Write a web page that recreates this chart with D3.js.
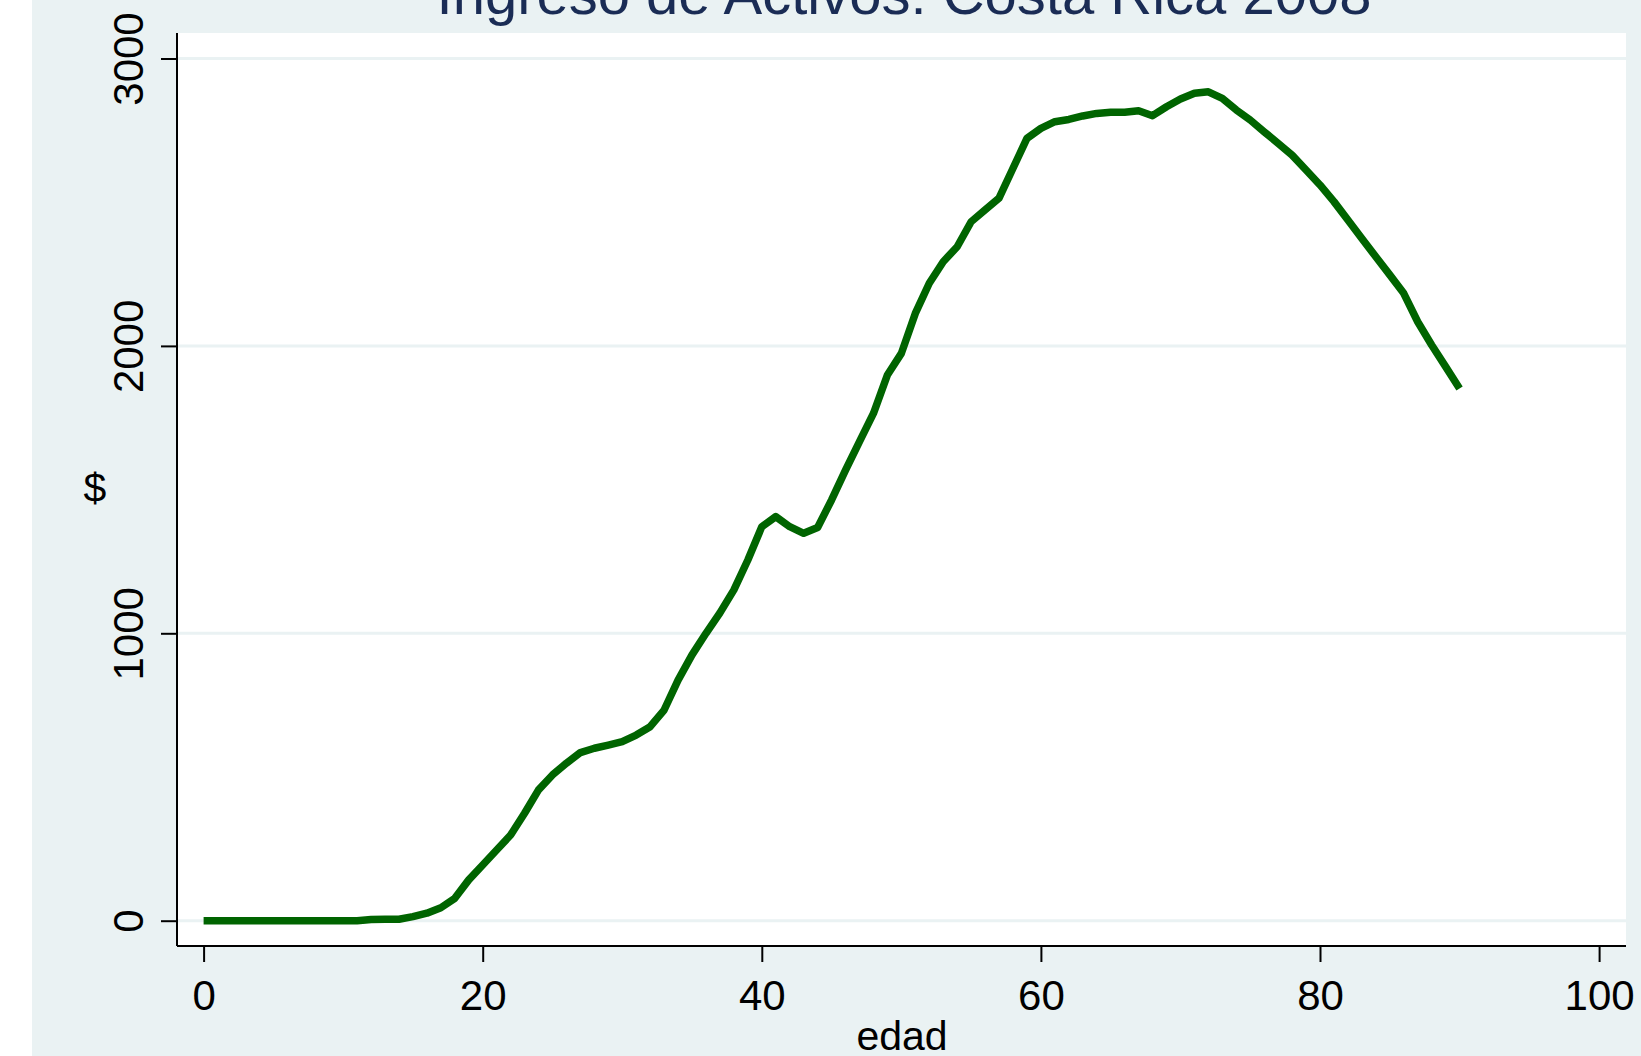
<!DOCTYPE html>
<html>
<head>
<meta charset="utf-8">
<script src="https://cdn.jsdelivr.net/npm/d3@7/dist/d3.min.js"></script>
<style>
  body { margin: 0; background: #fff; }
  svg text { font-family: "Liberation Sans", Arial, sans-serif; }
</style>
</head>
<body>
<div id="chart"></div>
<script>
// ingreso medio por edad (lectura del grafico original)
var edad = [0, 1, 2, 3, 4, 5, 6, 7, 8, 9, 10, 11, 12, 13, 14, 15, 16, 17, 18, 19,
  20, 21, 22, 23, 24, 25, 26, 27, 28, 29, 30, 31, 32, 33, 34, 35, 36, 37, 38, 39,
  40, 41, 42, 43, 44, 45, 46, 47, 48, 49, 50, 51, 52, 53, 54, 55, 56, 57, 58, 59,
  60, 61, 62, 63, 64, 65, 66, 67, 68, 69, 70, 71, 72, 73, 74, 75, 76, 77, 78, 79,
  80, 81, 82, 83, 84, 85, 86, 87, 88, 89, 90];
var ingreso = [0, 0, 0, 0, 0, 0, 0, 0, 0, 0, 0, 0, 4, 5, 5, 14, 26, 45, 78, 142,
  194, 246, 298, 374, 455, 507, 548, 585, 600, 611, 623, 646, 675, 733, 837, 925, 1000, 1071, 1151, 1255,
  1371, 1406, 1371, 1348, 1368, 1464, 1568, 1667, 1765, 1899, 1974, 2113, 2218, 2293, 2345, 2432, 2473, 2514, 2618, 2722,
  2757, 2780, 2788, 2800, 2809, 2813, 2813, 2818, 2801, 2832, 2859, 2879, 2884, 2861, 2821, 2786, 2745, 2705, 2664, 2612,
  2560, 2502, 2438, 2374, 2310, 2247, 2183, 2084, 2003, 1928, 1852];
var xTicks = [0, 20, 40, 60, 80, 100];
var yTicks = [0, 1000, 2000, 3000];
var titulo = "Ingreso de Activos: Costa Rica 2008";

var W = 1641, H = 1056;
var plot = { left: 177, right: 1626, top: 33, bottom: 946 };

var data = edad.map(function (d, i) { return { edad: d, v: ingreso[i] }; });

var x = d3.scaleLinear().domain([0, 100]).range([203.6, 1599.1]);
var y = d3.scaleLinear().domain([0, 3000]).range([920.7, 58.5]);

var svg = d3.select("#chart").append("svg")
  .attr("width", W)
  .attr("height", H);

// fondo del grafico (stata s2color)
svg.append("rect")
  .attr("x", 32).attr("y", 0)
  .attr("width", W - 32).attr("height", H)
  .attr("fill", "#eaf2f3");

svg.append("rect")
  .attr("x", plot.left).attr("y", plot.top)
  .attr("width", plot.right - plot.left).attr("height", plot.bottom - plot.top)
  .attr("fill", "#fff");

// lineas de cuadricula
svg.append("g").selectAll("line")
  .data(yTicks)
  .enter().append("line")
  .attr("x1", plot.left).attr("x2", plot.right)
  .attr("y1", function (d) { return y(d); })
  .attr("y2", function (d) { return y(d); })
  .attr("stroke", "#eaf2f3")
  .attr("stroke-width", 3);

var yAxis = d3.axisLeft(y).tickValues(yTicks).tickFormat(d3.format("d")).tickSize(16).tickPadding(0);
var xAxis = d3.axisBottom(x).tickValues(xTicks).tickFormat(d3.format("d")).tickSize(16).tickPadding(0);

var gy = svg.append("g")
  .attr("transform", "translate(" + plot.left + ",0)")
  .call(yAxis);
gy.select(".domain").attr("d", "M0," + plot.top + "V" + plot.bottom);
gy.selectAll(".tick text")
  .attr("x", null).attr("dy", null)
  .attr("text-anchor", "middle")
  .attr("transform", "translate(-34,0) rotate(-90)");

var gx = svg.append("g")
  .attr("transform", "translate(0," + plot.bottom + ")")
  .call(xAxis);
gx.select(".domain").attr("d", "M" + plot.left + ",0H" + plot.right);
gx.selectAll(".tick text")
  .attr("dy", null)
  .attr("y", 64);

svg.selectAll(".domain, .tick line")
  .attr("stroke", "#000")
  .attr("stroke-width", 2);
svg.selectAll(".tick text")
  .attr("font-size", 42)
  .attr("fill", "#000");

// curva
var line = d3.line()
  .x(function (d) { return x(d.edad); })
  .y(function (d) { return y(d.v); });

svg.append("path")
  .datum(data)
  .attr("d", line)
  .attr("fill", "none")
  .attr("stroke", "#006400")
  .attr("stroke-width", 7.5)
  .attr("stroke-linejoin", "round");

// textos
svg.append("text")
  .attr("x", 904).attr("y", 14)
  .attr("text-anchor", "middle")
  .attr("font-size", 58)
  .attr("fill", "#1a2c55")
  .text(titulo);

svg.append("text")
  .attr("x", 902).attr("y", 1050)
  .attr("text-anchor", "middle")
  .attr("font-size", 41)
  .attr("fill", "#000")
  .text("edad");

svg.append("text")
  .attr("x", 95).attr("y", 502)
  .attr("text-anchor", "middle")
  .attr("font-size", 41)
  .attr("fill", "#000")
  .text("$");
</script>
</body>
</html>
